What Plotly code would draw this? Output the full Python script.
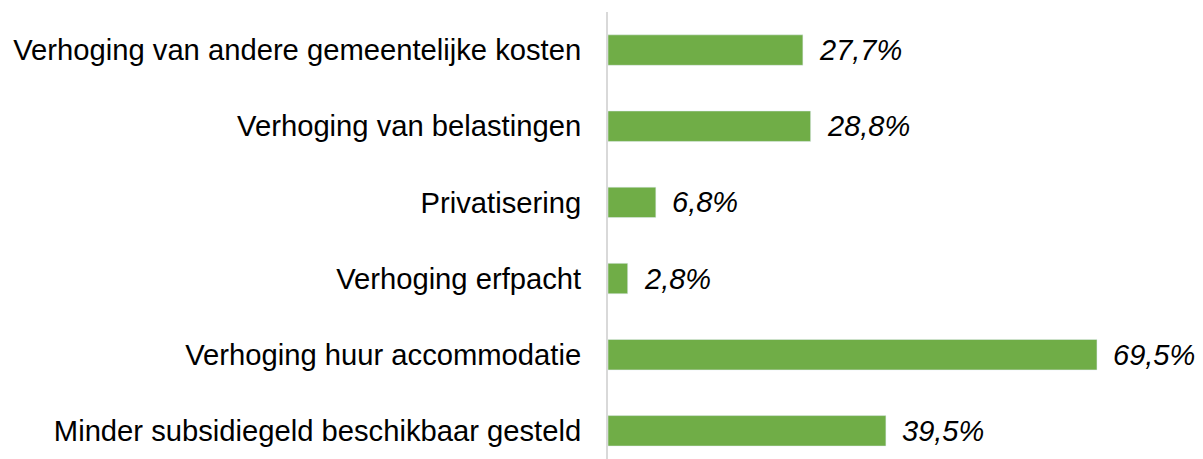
import plotly.graph_objects as go

categories = [
    "Minder subsidiegeld beschikbaar gesteld",
    "Verhoging huur accommodatie",
    "Verhoging erfpacht",
    "Privatisering",
    "Verhoging van belastingen",
    "Verhoging van andere gemeentelijke kosten",
]
values = [39.5, 69.5, 2.8, 6.8, 28.8, 27.7]
labels = [f"{v:.1f}%".replace(".", ",") for v in values]

fig = go.Figure()

fig.add_trace(go.Bar(
    x=values, y=categories, orientation="h",
    marker=dict(color="#70ad47"),
    width=0.4,
    hoverinfo="skip",
))

# value labels right of each bar
for v, c, t in zip(values, categories, labels):
    fig.add_annotation(
        x=v, y=c, text=t, showarrow=False,
        xanchor="left", xshift=14,
        font=dict(family="Liberation Sans, Arial", size=29, color="black", style="italic"),
    )

# page body has an 8px margin, so the figure is a bit smaller than the window
fig.update_layout(
    width=1195, height=451,
    margin=dict(l=600, r=4, t=4, b=0, autoexpand=False),
    plot_bgcolor="white", paper_bgcolor="white",
    showlegend=False,
    xaxis=dict(range=[0, 84], visible=False),
    yaxis=dict(
        range=[-0.37, 5.5], automargin=False,
        showline=True, linecolor="#d9d9d9", linewidth=2,
        showgrid=False, ticks="", ticklabelstandoff=19,
        tickfont=dict(family="Liberation Sans, Arial", size=29.2, color="black"),
    ),
)

fig.write_html("out.html")
